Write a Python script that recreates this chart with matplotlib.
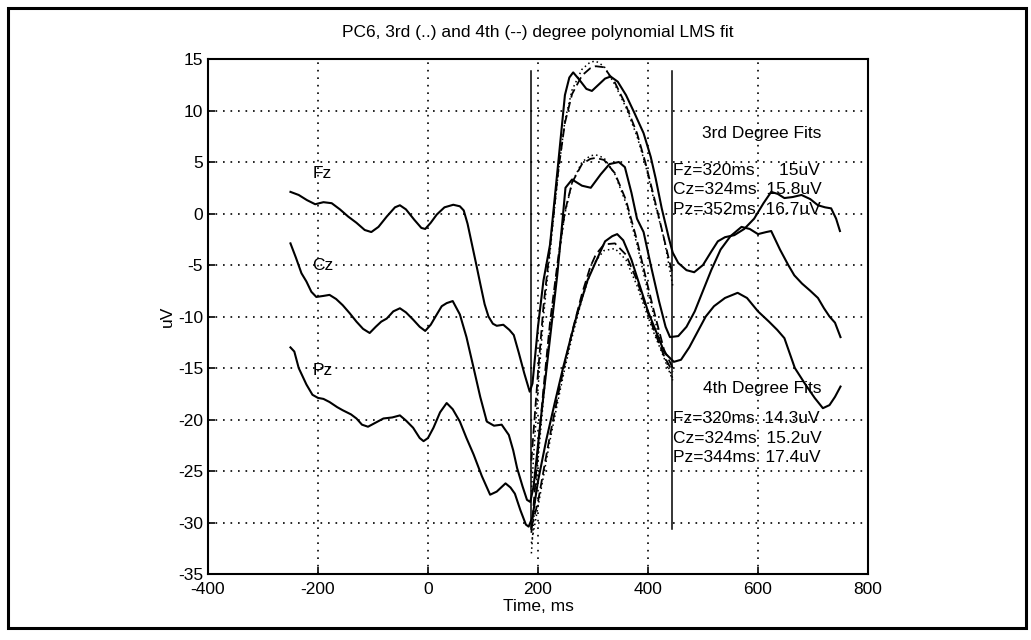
import numpy as np
import matplotlib.pyplot as plt
from matplotlib.patches import Rectangle

plt.rcParams['font.family'] = ['Liberation Sans', 'DejaVu Sans']
plt.rcParams['axes.unicode_minus'] = False

# --- channel waveforms (ms, uV) ---
fz_t = [-250, -235, -220, -205, -190, -175, -160, -145, -130, -115, -103, -90, -75, -60, -51,
        -40, -25, -12, -5, 5, 16, 30, 46, 58, 65, 72, 80, 88, 95, 103, 110, 118, 125, 137, 148,
        156, 165, 175, 185, 190, 200, 210, 222, 237, 249, 257, 264, 275, 288, 298, 310, 322,
        332, 345, 360, 375, 392, 405, 414, 425, 438, 445, 455, 470, 484, 500, 515, 527, 540,
        557, 575, 593, 610, 624, 636, 648, 663, 679, 695, 709, 722, 733, 742, 749]
fz_v = [2.1, 1.8, 1.3, 0.9, 1.1, 1.0, 0.4, -0.3, -0.9, -1.6, -1.8, -1.3, -0.3, 0.6, 0.8,
        0.4, -0.6, -1.4, -1.5, -0.9, -0.1, 0.6, 0.85, 0.7, 0.3, -1.0, -3.0, -5.0, -6.8, -8.8,
        -10.0, -10.7, -10.9, -10.8, -11.3, -11.8, -13.5, -15.5, -17.3, -16.5, -11.0, -6.5,
        -3.0, 5.0, 11.5, 13.2, 13.7, 13.0, 12.1, 11.9, 12.5, 13.1, 13.3, 12.8, 11.5, 9.8, 7.8,
        5.5, 3.4, 0.5, -2.4, -3.8, -4.8, -5.5, -5.7, -5.0, -3.7, -2.7, -2.3, -2.1, -1.5, -0.5,
        1.0, 2.1, 1.9, 1.5, 1.6, 1.8, 1.4, 0.8, 0.6, 0.5, -0.5, -1.7]

cz_t = [-250, -240, -230, -221, -212, -203, -190, -179, -167, -155, -142, -130, -118, -106,
        -95, -85, -75, -63, -51, -40, -27, -15, -5, 5, 16, 25, 34, 45, 58, 70, 83, 95, 107,
        120, 134, 147, 155, 162, 172, 180, 186, 192, 205, 220, 235, 244, 250, 262, 280, 296,
        314, 330, 347, 358, 370, 380, 392, 405, 420, 432, 440, 455, 470, 485, 500, 515, 532,
        550, 570, 585, 600, 615, 624, 640, 655, 666, 680, 695, 709, 720, 730, 740, 750]
cz_v = [-2.9, -4.3, -5.8, -6.6, -7.6, -8.1, -8.0, -7.9, -8.3, -8.9, -9.7, -10.5, -11.2, -11.6,
        -11.0, -10.5, -10.2, -9.5, -9.2, -9.6, -10.3, -11.0, -11.4, -10.8, -9.8, -9.0, -8.7,
        -8.5, -9.8, -12.0, -15.0, -17.8, -20.2, -20.6, -20.5, -21.5, -23.0, -24.7, -26.5, -27.8,
        -28.0, -26.5, -20.0, -13.0, -6.0, -1.0, 2.5, 3.3, 2.7, 2.5, 3.8, 4.8, 5.0, 4.5, 2.0,
        -0.5, -1.8, -5.0, -8.5, -11.0, -12.0, -11.9, -11.0, -9.5, -7.5, -5.5, -3.5, -2.2, -1.3,
        -1.5, -2.0, -1.8, -1.7, -3.5, -5.0, -6.0, -6.8, -7.5, -8.2, -9.2, -10.0, -10.6, -12.0]

pz_t = [-250, -243, -235, -221, -210, -200, -190, -179, -165, -155, -140, -130, -120, -109,
        -95, -81, -65, -51, -40, -27, -15, -8, 0, 10, 22, 34, 45, 58, 70, 83, 98, 113, 125,
        141, 150, 158, 168, 178, 183, 190, 200, 215, 230, 246, 260, 271, 290, 305, 322, 335,
        344, 355, 370, 385, 400, 415, 430, 447, 460, 475, 490, 505, 520, 540, 563, 580, 600,
        620, 635, 648, 667, 685, 703, 718, 730, 740, 750]
pz_v = [-13.0, -13.4, -15.0, -16.6, -17.6, -17.9, -18.0, -18.3, -18.8, -19.1, -19.5, -19.9,
        -20.5, -20.7, -20.3, -19.9, -19.8, -19.6, -20.1, -20.8, -21.8, -22.1, -21.8, -20.8,
        -19.3, -18.4, -19.0, -20.2, -21.8, -23.4, -25.5, -27.3, -27.0, -26.2, -26.6, -27.2,
        -28.8, -30.2, -30.4, -29.5, -26.0, -22.0, -18.5, -14.9, -12.0, -9.8, -6.5, -4.7, -2.7,
        -2.2, -2.0, -2.6, -4.5, -7.0, -9.5, -11.5, -13.5, -14.4, -14.2, -13.0, -11.5, -10.0,
        -9.0, -8.2, -7.7, -8.2, -9.5, -10.5, -11.3, -12.1, -15.0, -16.5, -17.9, -18.9, -18.6,
        -17.8, -16.8]

# --- polynomial fits over the analysis window ---
fit_t = [188, 200, 210, 222, 237, 249, 262, 280, 295, 305, 320, 340, 360, 380, 395, 410, 429, 445]
fz_fit3 = [-27.0, -17.0, -10.0, -3.7, 4.0, 9.0, 12.0, 14.0, 14.7, 14.8, 14.3, 12.5, 10.3, 7.5, 4.8, 1.5, -2.4, -7.0]
fz_fit4 = [-24.0, -15.5, -9.0, -3.2, 4.2, 8.8, 11.6, 13.4, 14.1, 14.3, 14.2, 12.7, 10.5, 7.8, 5.0, 1.8, -2.4, -6.0]
cz_fit3 = [-33.0, -24.0, -18.0, -11.0, -4.5, 0.0, 3.0, 5.0, 5.6, 5.7, 5.4, 3.8, 1.0, -3.0, -6.5, -9.8, -13.8, -16.0]
cz_fit4 = [-31.0, -23.0, -17.0, -10.5, -4.2, 0.2, 3.0, 4.8, 5.3, 5.4, 5.2, 3.9, 1.3, -2.6, -6.0, -9.3, -13.2, -15.0]
pz_fit3 = [-32.0, -28.5, -25.5, -22.0, -18.0, -15.0, -12.0, -8.3, -5.8, -4.6, -3.6, -3.4, -4.5, -7.0, -9.3, -11.5, -14.0, -16.2]
pz_fit4 = [-30.5, -28.0, -25.0, -21.5, -17.5, -14.5, -11.5, -7.8, -5.2, -4.0, -3.0, -2.9, -4.0, -6.5, -8.9, -11.2, -13.8, -15.4]

marker_t = [188, 443]

fig = plt.figure(figsize=(10.31, 6.4), dpi=100)
ax = fig.add_axes([0.2017, 0.1031, 0.6402, 0.8047])

for t, v in [(fz_t, fz_v), (cz_t, cz_v), (pz_t, pz_v)]:
    ax.plot(t, v, color='black', lw=1.5)
for f in [fz_fit3, cz_fit3, pz_fit3]:
    ax.plot(fit_t, f, color='black', lw=1.1, linestyle=(0, (1, 2)))
for f in [fz_fit4, cz_fit4, pz_fit4]:
    ax.plot(fit_t, f, color='black', lw=1.3, linestyle=(0, (5, 2.5)))

for m in marker_t:
    ax.plot([m, m], [13.8, -30.6], color='black', lw=1.1)

ax.set_xlim(-400, 800)
ax.set_ylim(-35, 15)
ax.set_xticks(np.arange(-400, 801, 200))
ax.set_yticks(np.arange(-35, 16, 5))
ax.grid(True, color='black', linestyle=(0, (1, 3.5)), linewidth=1.2)
ax.tick_params(direction='in', length=5, width=1.2, labelsize=12.5, colors='black')
ax.tick_params(axis='x', pad=6)
for s in ax.spines.values():
    s.set_linewidth(1.5)

ax.set_title('PC6, 3rd (..) and 4th (--) degree polynomial LMS fit', fontsize=12.5, pad=16)
ax.set_xlabel('Time, ms', fontsize=12.5, labelpad=1)
ax.set_ylabel('uV', fontsize=12.5, labelpad=2)

# channel labels
for name, y in [('Fz', 3.9), ('Cz', -5.0), ('Pz', -15.2)]:
    ax.text(-210, y, name, fontsize=12.5, va='center', ha='left')

ax.text(607, 7.8, '3rd Degree Fits', fontsize=12.5, ha='center', va='center')
fits3 = ['Fz=320ms     15uV', 'Cz=324ms  15.8uV', 'Pz=352ms  16.7uV']
for i, s in enumerate(fits3):
    ax.text(446, 4.2 - 1.9 * i, s, fontsize=12.5, ha='left', va='center')

ax.text(607, -17.0, '4th Degree Fits', fontsize=12.5, ha='center', va='center')
fits4 = ['Fz=320ms  14.3uV', 'Cz=324ms  15.2uV', 'Pz=344ms  17.4uV']
for i, s in enumerate(fits4):
    ax.text(446, -19.9 - 1.9 * i, s, fontsize=12.5, ha='left', va='center')

# page frame around the figure
fig.patches.append(Rectangle((8 / 1031, 1 - 628 / 640), 1018 / 1031, 620 / 640,
                             transform=fig.transFigure, fill=False, lw=2.2, color='black'))

fig.savefig('out.png', dpi=100)
